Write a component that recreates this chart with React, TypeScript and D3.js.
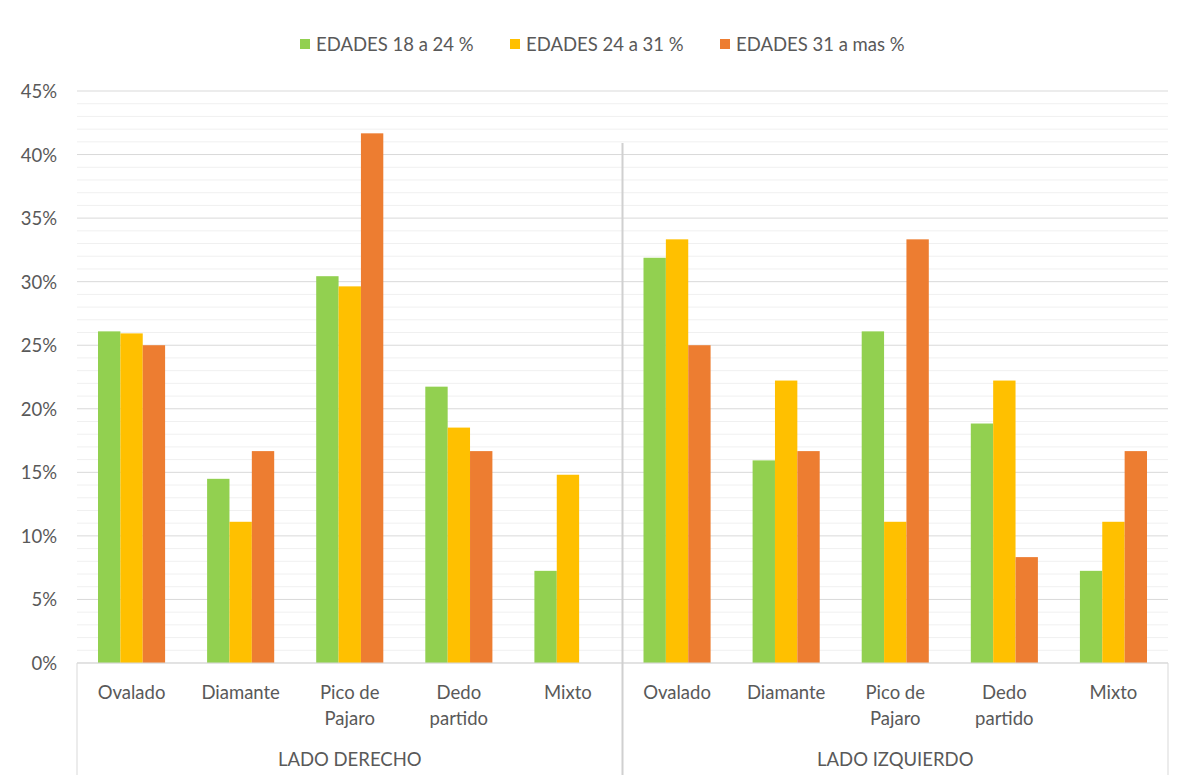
import React from "react";
import * as d3 from "d3";

const categories = ["Ovalado", "Diamante", "Pico de Pajaro", "Dedo partido", "Mixto"];
const sides = ["LADO DERECHO", "LADO IZQUIERDO"];
const seriesNames = ["EDADES 18 a 24 %", "EDADES 24 a 31 %", "EDADES 31 a mas %"];
const seriesColors = ["#92d050", "#ffc000", "#ed7d31"];

// Percent values, right side then left side, in category order
const edades18a24 = [26.09, 14.49, 30.43, 21.74, 7.25, 31.88, 15.94, 26.09, 18.84, 7.25];
const edades24a31 = [25.93, 11.11, 29.63, 18.52, 14.81, 33.33, 22.22, 11.11, 22.22, 11.11];
const edades31aMas = [25.0, 16.67, 41.67, 16.67, 0, 25.0, 16.67, 33.33, 8.33, 16.67];

const yTicks = [0, 5, 10, 15, 20, 25, 30, 35, 40, 45];

const W = 1184;
const H = 781;
const left = 77;
const right = 1168;
const top = 91;
const bottom = 663;
const font = "Lato, 'Open Sans', sans-serif";
const fs = 18.5;
const textColor = "#595959";

export default function App() {
  const series = [edades18a24, edades24a31, edades31aMas];
  const slots = sides.flatMap((s) => categories.map((c) => `${s}|${c}`));
  const x = d3.scaleBand<string>().domain(slots).range([left, right]).paddingInner(0).paddingOuter(0);
  const y = d3.scaleLinear().domain([0, 45]).range([bottom, top]);
  const bw = x.bandwidth();
  const barW = bw * 0.205;
  const groupW = barW * 3;
  const minor = d3.range(0, 45, 1).filter((v) => v % 5 !== 0);

  const splitLabel = (c: string) => {
    if (c === "Pico de Pajaro") return ["Pico de", "Pajaro"];
    if (c === "Dedo partido") return ["Dedo", "partido"];
    return [c];
  };

  const legendX = [300, 510, 720];
  const midX = x(slots[5])!;

  return (
    <svg width={W} height={H} style={{ position: "absolute", left: 0, top: 0, background: "#fff" }}>
      <rect width={W} height={H} fill="#fff" />
      {/* legend */}
      {seriesNames.map((n, i) => (
        <g key={n}>
          <rect x={legendX[i]} y={39} width={10} height={10} fill={seriesColors[i]} />
          <text x={legendX[i] + 16} y={44} dominantBaseline="central" fontFamily={font} fontSize={fs} fill={textColor}>
            {n}
          </text>
        </g>
      ))}
      {/* gridlines */}
      {minor.map((v) => (
        <line key={`m${v}`} x1={left} x2={right} y1={y(v)} y2={y(v)} stroke="#f0f0f0" strokeWidth={1} />
      ))}
      {yTicks.map((v) => (
        <line key={`g${v}`} x1={left} x2={right} y1={y(v)} y2={y(v)} stroke="#d9d9d9" strokeWidth={1} />
      ))}
      {yTicks.map((v) => (
        <text key={`t${v}`} x={57} y={y(v)} textAnchor="end" dominantBaseline="central" fontFamily={font} fontSize={fs} fill={textColor}>
          {`${v}%`}
        </text>
      ))}
      {/* bars */}
      {slots.map((s, j) => (
        <g key={s}>
          {series.map((vals, i) => {
            const x0 = x(s)! + (bw - groupW) / 2 + i * barW;
            return (
              <rect key={i} x={x0} y={y(vals[j])} width={barW} height={bottom - y(vals[j])} fill={seriesColors[i]} />
            );
          })}
        </g>
      ))}
      {/* category axis */}
      <line x1={left} x2={right} y1={bottom} y2={bottom} stroke="#d9d9d9" strokeWidth={1} />
      <line x1={left} x2={left} y1={bottom} y2={775} stroke="#d9d9d9" strokeWidth={1} />
      <line x1={right} x2={right} y1={bottom} y2={775} stroke="#d9d9d9" strokeWidth={1} />
      <line x1={midX} x2={midX} y1={143} y2={775} stroke="#d0d0d0" strokeWidth={2} />
      {slots.map((s) => {
        const c = s.split("|")[1];
        const lines = splitLabel(c);
        const cx = x(s)! + bw / 2;
        return (
          <text key={`l${s}`} textAnchor="middle" fontFamily={font} fontSize={fs} fill={textColor}>
            {lines.map((ln, k) => (
              <tspan key={k} x={cx} y={692 + k * 26} dominantBaseline="central">
                {ln}
              </tspan>
            ))}
          </text>
        );
      })}
      {sides.map((s, i) => {
        const cx = i === 0 ? (left + midX) / 2 : (midX + right) / 2;
        return (
          <text key={s} x={cx} y={759} textAnchor="middle" dominantBaseline="central" fontFamily={font} fontSize={fs} fill={textColor}>
            {s}
          </text>
        );
      })}
    </svg>
  );
}
